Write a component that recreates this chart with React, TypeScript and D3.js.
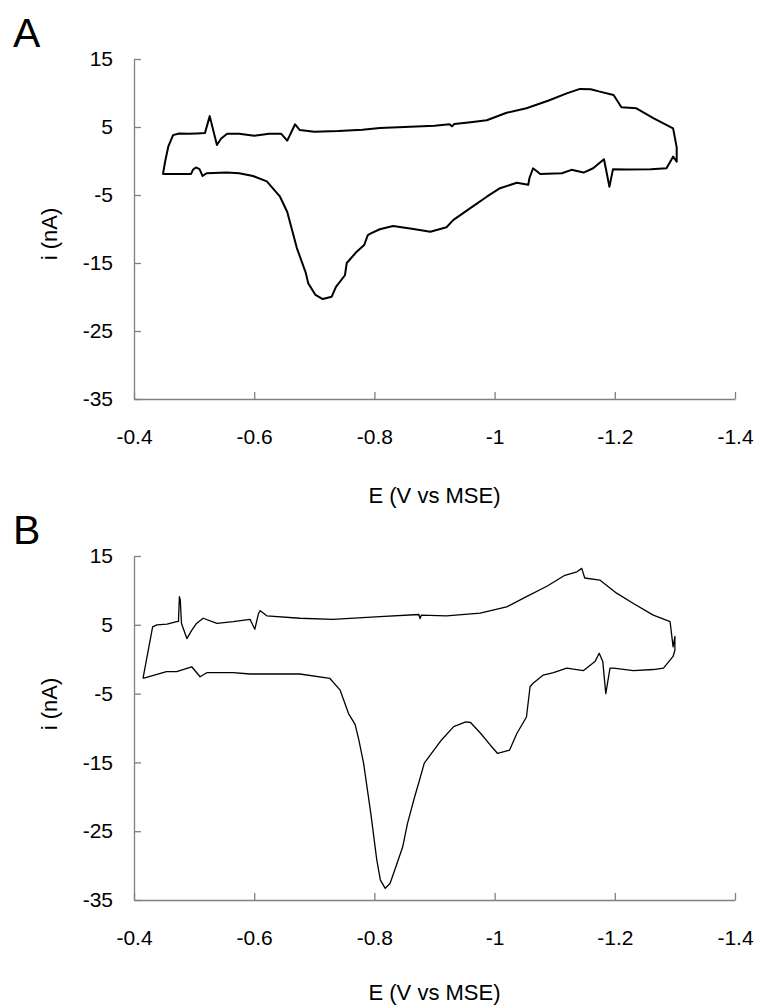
import { useEffect, useRef } from 'react';
import * as d3 from 'd3';

// axis ticks
const xTicks = [-0.4, -0.6, -0.8, -1, -1.2, -1.4];
const yTicks = [15, 5, -5, -15, -25, -35];

// panel A: [E (V vs MSE), i (nA)]
const upperA: [number, number][] = [
  [-0.448, -2.0], [-0.452, 0.0], [-0.457, 2.1], [-0.465, 3.8], [-0.475, 4.05], [-0.49, 4.0],
  [-0.505, 4.05], [-0.518, 4.1], [-0.526, 6.6], [-0.538, 2.35], [-0.545, 3.3], [-0.555, 4.0],
  [-0.575, 4.0], [-0.6, 3.7], [-0.625, 4.0], [-0.645, 4.0], [-0.655, 3.0], [-0.668, 5.4],
  [-0.676, 4.55], [-0.7, 4.3], [-0.74, 4.4], [-0.78, 4.6], [-0.809, 4.85], [-0.85, 5.0],
  [-0.9, 5.2], [-0.925, 5.4], [-0.929, 5.1], [-0.933, 5.45], [-0.96, 5.7], [-0.987, 6.0],
  [-1.02, 7.1], [-1.053, 7.75], [-1.09, 8.9], [-1.12, 9.95], [-1.142, 10.6], [-1.16, 10.55],
  [-1.175, 10.2], [-1.198, 9.7], [-1.211, 7.9], [-1.236, 7.75], [-1.264, 6.3], [-1.297, 4.8],
  [-1.303, 2.0], [-1.303, -0.1],
];
const lowerA: [number, number][] = [
  [-1.303, -0.1], [-1.297, 0.64], [-1.286, -1.07], [-1.26, -1.2], [-1.22, -1.25], [-1.197, -1.2],
  [-1.191, -3.8], [-1.186, -1.5], [-1.182, 0.25], [-1.164, -1.07], [-1.148, -1.7], [-1.128, -1.3],
  [-1.112, -1.8], [-1.076, -1.9], [-1.064, -1.07], [-1.058, -2.5], [-1.056, -3.5], [-1.037, -3.2],
  [-1.009, -4.0], [-0.987, -5.25], [-0.959, -6.96], [-0.931, -8.7], [-0.92, -9.75], [-0.893, -10.4],
  [-0.865, -10.0], [-0.831, -9.56], [-0.809, -10.04], [-0.795, -10.6], [-0.789, -10.9],
  [-0.783, -12.35], [-0.771, -13.3], [-0.754, -15], [-0.751, -16.8], [-0.736, -18.5],
  [-0.729, -19.95], [-0.714, -20.3], [-0.702, -19.7], [-0.69, -18], [-0.686, -16.5],
  [-0.671, -12.8], [-0.661, -9.5], [-0.655, -7.5], [-0.643, -5.25], [-0.621, -3.0],
  [-0.598, -2.2], [-0.575, -1.8], [-0.554, -1.7], [-0.521, -1.8], [-0.514, -2.2], [-0.509, -1.2],
  [-0.503, -0.95], [-0.498, -1.3], [-0.495, -1.9], [-0.47, -1.9], [-0.448, -1.9],
];

// panel B
const upperB: [number, number][] = [
  [-0.415, -2.8], [-0.431, 4.7], [-0.438, 5.0], [-0.455, 5.1], [-0.471, 5.45], [-0.474, 5.5],
  [-0.4755, 9.1], [-0.477, 8.6], [-0.479, 5.2], [-0.488, 3.0], [-0.496, 4.2], [-0.504, 5.2],
  [-0.515, 5.95], [-0.538, 5.2], [-0.565, 5.45], [-0.593, 5.8], [-0.601, 4.35], [-0.607, 6.6],
  [-0.61, 7.05], [-0.621, 6.3], [-0.676, 5.95], [-0.731, 5.8], [-0.809, 6.2], [-0.874, 6.5],
  [-0.876, 5.9], [-0.878, 6.4], [-0.92, 6.3], [-0.976, 6.7], [-1.02, 7.6], [-1.053, 9.1],
  [-1.087, 10.6], [-1.117, 12.2], [-1.137, 12.7], [-1.145, 13.2], [-1.15, 11.8], [-1.175, 11.5],
  [-1.203, 9.6], [-1.231, 8.1], [-1.264, 6.4], [-1.292, 5.45], [-1.297, 1.8], [-1.3, 3.3],
  [-1.3, 1.3],
];
const lowerB: [number, number][] = [
  [-1.3, 1.3], [-1.297, 0.4], [-1.281, -1.3], [-1.264, -1.5], [-1.231, -1.65], [-1.198, -1.3],
  [-1.192, -1.3], [-1.185, -5.0], [-1.18, -0.35], [-1.174, 0.86], [-1.167, -0.35], [-1.148, -1.65],
  [-1.12, -1.3], [-1.098, -1.96], [-1.081, -2.3], [-1.064, -3.5], [-1.059, -4.0], [-1.053, -8.4],
  [-1.037, -10.8], [-1.025, -13.2], [-1.005, -13.7], [-0.993, -12.5], [-0.977, -10.8],
  [-0.96, -9.2], [-0.952, -9.1], [-0.932, -9.8], [-0.912, -11.7], [-0.895, -13.7],
  [-0.883, -15.1], [-0.875, -17.6], [-0.867, -20], [-0.855, -23.9], [-0.847, -27.3],
  [-0.834, -30.6], [-0.826, -32.6], [-0.818, -33.3], [-0.81, -32.1], [-0.804, -29.2],
  [-0.794, -22.4], [-0.782, -15.1], [-0.774, -11.7], [-0.768, -9.5], [-0.757, -7.9],
  [-0.743, -4.5], [-0.726, -2.8], [-0.676, -2.15], [-0.593, -2.15], [-0.565, -1.96],
  [-0.521, -1.96], [-0.51, -2.55], [-0.496, -1.1], [-0.471, -1.8], [-0.454, -1.8], [-0.415, -2.8],
];

const FONT = '"Liberation Sans", Arial, sans-serif';

const panels = [
  { letter: 'A', top: 59, bottom: 399, titleY: 503, labelY: 234, upper: upperA, lower: lowerA, width: 2 },
  { letter: 'B', top: 556, bottom: 900, titleY: 1000, labelY: 704, upper: upperB, lower: lowerB, width: 1.3 },
];

const App = () => {
  const ref = useRef<SVGSVGElement>(null);

  useEffect(() => {
    const svg = d3.select(ref.current);
    svg.selectAll('*').remove();
    const left = 134;
    const right = 735;

    panels.forEach((p) => {
      const x = d3.scaleLinear().domain([-0.4, -1.4]).range([left, right]);
      const y = d3.scaleLinear().domain([-35, 15]).range([p.bottom, p.top]);
      const g = svg.append('g');

      // y axis
      const ya = g.append('g')
        .attr('transform', `translate(${left},0)`)
        .call(d3.axisLeft(y).tickValues(yTicks).tickFormat((d) => String(d))
          .tickSizeInner(-7).tickSizeOuter(0).tickPadding(21));
      // x axis
      const xa = g.append('g')
        .attr('transform', `translate(0,${p.bottom})`)
        .call(d3.axisBottom(x).tickValues(xTicks).tickFormat((d) => String(d))
          .tickSizeInner(-7).tickSizeOuter(0).tickPadding(30));
      [ya, xa].forEach((a) => {
        a.select('.domain').attr('stroke', '#808080').attr('stroke-width', 1.3);
        a.selectAll('.tick line').attr('stroke', '#808080').attr('stroke-width', 1.3);
        a.selectAll('.tick text').attr('fill', '#000').attr('font-size', 21).attr('font-family', FONT);
      });

      const line = d3.line<[number, number]>().x((d) => x(d[0])).y((d) => y(d[1]));
      g.append('path')
        .datum([...p.upper, ...p.lower])
        .attr('fill', 'none')
        .attr('stroke', '#000')
        .attr('stroke-width', p.width)
        .attr('stroke-linejoin', 'round')
        .attr('d', line);

      // titles
      g.append('text')
        .attr('x', (left + right) / 2)
        .attr('y', p.titleY)
        .attr('text-anchor', 'middle')
        .attr('font-size', 22)
        .attr('font-family', FONT)
        .text('E (V vs MSE)');
      g.append('text')
        .attr('transform', `translate(57,${p.labelY}) rotate(-90)`)
        .attr('text-anchor', 'middle')
        .attr('font-size', 22)
        .attr('font-family', FONT)
        .text('i (nA)');
      g.append('text')
        .attr('x', 13)
        .attr('y', p.top - 12)
        .attr('font-size', 41)
        .attr('font-family', FONT)
        .text(p.letter);
    });
  }, []);

  return (
    <div style={{ position: 'absolute', left: 0, top: 0 }}>
      <svg ref={ref} width={762} height={1008} style={{ display: 'block', background: '#fff' }} />
    </div>
  );
};

export default App;
